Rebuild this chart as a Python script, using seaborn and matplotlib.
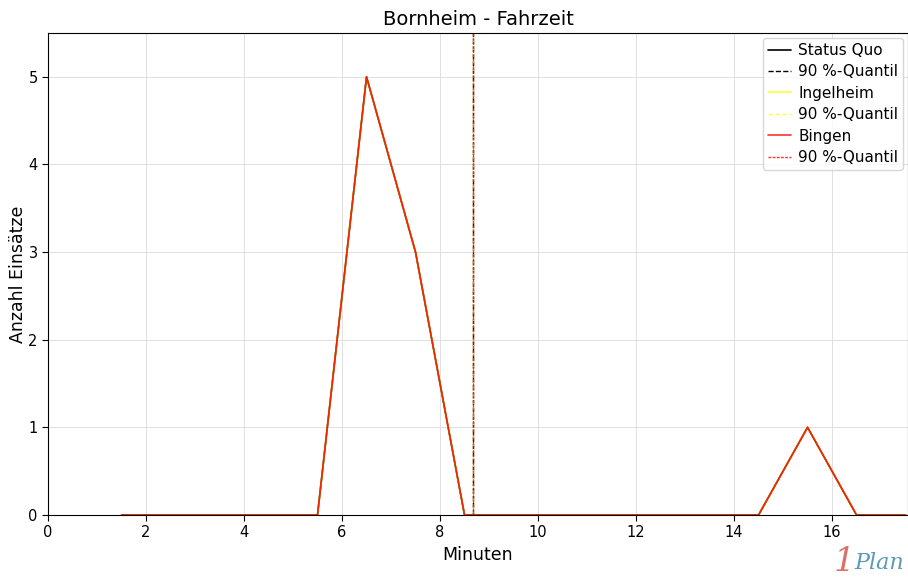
import numpy as np
import pandas as pd
import matplotlib
matplotlib.use("Agg")
import matplotlib.pyplot as plt
import seaborn as sns

# data (bin centers in minutes)
minuten = [1.5, 2.5, 3.5, 4.5, 5.5, 6.5, 7.5, 8.5, 9.5, 10.5, 11.5, 12.5, 13.5, 14.5, 15.5, 16.5, 17.5]
status_quo = [0, 0, 0, 0, 0, 5, 3, 0, 0, 0, 0, 0, 0, 0, 1, 0, 0]
ingelheim = [0, 0, 0, 0, 0, 5, 3, 0, 0, 0, 0, 0, 0, 0, 1, 0, 0]
bingen = [0, 0, 0, 0, 0, 5, 3, 0, 0, 0, 0, 0, 0, 0, 1, 0, 0]
quantil_status_quo = 8.68
quantil_ingelheim = 8.68
quantil_bingen = 8.68

sns.set_style("white")
plt.rcParams['font.family'] = ['DejaVu Sans']
plt.rcParams['text.color'] = 'black'
plt.rcParams['axes.labelcolor'] = 'black'
plt.rcParams['xtick.color'] = 'black'
plt.rcParams['ytick.color'] = 'black'

fig = plt.figure(figsize=(9.08, 5.83), dpi=100)
ax = fig.add_axes([48 / 908, 68 / 583, 860 / 908, 482 / 583])

series = [
    ("Status Quo", status_quo, quantil_status_quo, "black", 1.0, "--"),
    ("Ingelheim", ingelheim, quantil_ingelheim, "yellow", 0.75, (0, (3, 2))),
    ("Bingen", bingen, quantil_bingen, "red", 0.8, (0, (2, 1))),
]

for name, values, q, color, alpha, ls in series:
    df = pd.DataFrame({"Minuten": minuten, "Anzahl": values})
    sns.lineplot(data=df, x="Minuten", y="Anzahl", ax=ax, color=color, alpha=alpha,
                 linewidth=1.2, label=name)
    ax.axvline(q, color=color, alpha=alpha, linestyle=ls, linewidth=1.0, label="90 %-Quantil")

ax.set_xlim(0, 17.55)
ax.set_ylim(0, 5.5)
ax.set_xticks(np.arange(0, 17, 2))
ax.set_yticks(np.arange(0, 6, 1))
ax.grid(True, color="#e0e0e0", linewidth=0.7)
for s in ax.spines.values():
    s.set_color("black")
    s.set_linewidth(0.8)
ax.tick_params(axis="both", labelsize=10.5, length=4, color="black", bottom=True, left=True)

ax.set_title("Bornheim - Fahrzeit", fontsize=14)
ax.set_xlabel("Minuten", fontsize=12.5)
ax.set_ylabel("Anzahl Einsätze", fontsize=12.5, labelpad=1)

leg = ax.legend(loc="upper right", fontsize=11, frameon=True, handlelength=1.5,
                borderaxespad=0.3, labelspacing=0.42, handletextpad=0.45, borderpad=0.35)
leg.get_frame().set_alpha(0.8)

# logo
fig.text(0.918, 0.02, "1", color="#d9736a", fontsize=24, style="italic", family="DejaVu Serif")
fig.text(0.941, 0.024, "Plan", color="#5b9ab8", fontsize=16, style="italic", family="DejaVu Serif")

fig.savefig("out.png", dpi=100)
